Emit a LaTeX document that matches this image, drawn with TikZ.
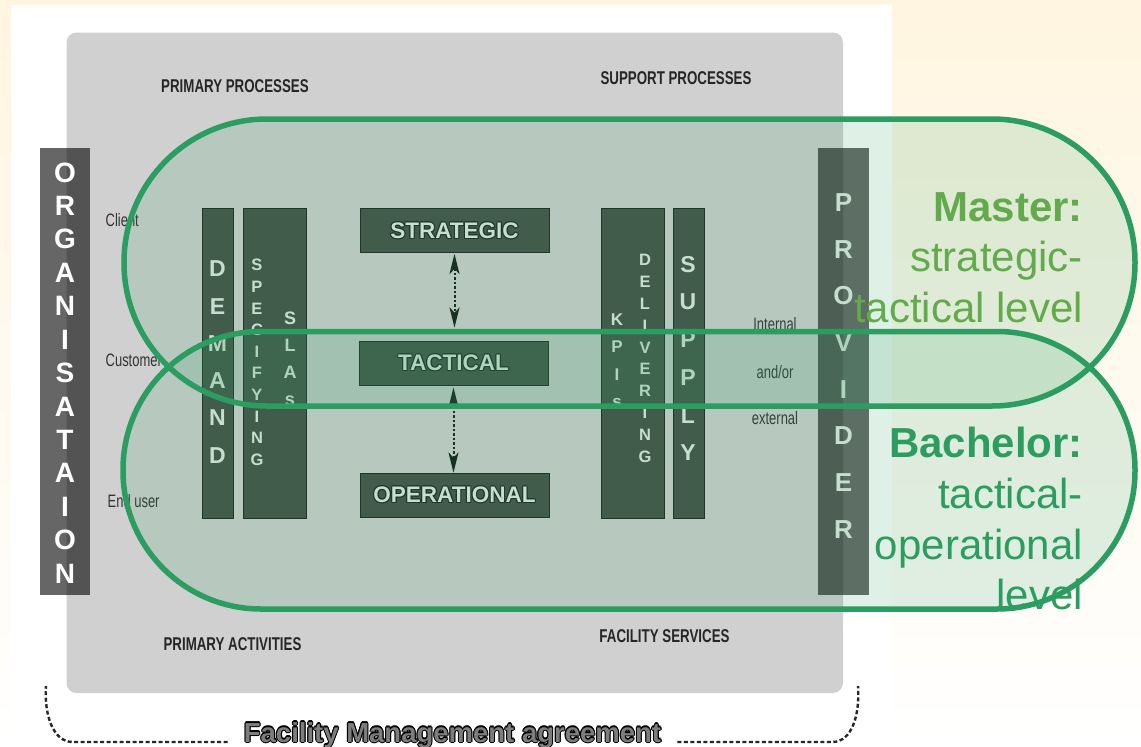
\documentclass[tikz,border=0pt]{standalone}
\usepackage{fontspec}
\setmainfont{Liberation Sans}
\newfontfamily\condfont[FakeStretch=0.72]{Liberation Sans}
\usepackage{graphicx}
\usetikzlibrary{arrows.meta}

\definecolor{ovalgreen}{RGB}{44,157,96}
\definecolor{mastergreen}{RGB}{98,170,76}
\definecolor{colfill}{RGB}{71,81,72}
\definecolor{colline}{RGB}{28,38,32}
\definecolor{greyback}{RGB}{208,208,208}
\definecolor{cream}{RGB}{255,245,224}
\definecolor{letterc}{RGB}{226,234,226}
\definecolor{arrowc}{RGB}{20,32,24}
\definecolor{fmagrey}{RGB}{125,125,125}

% light text with a thin dark rim
\newcommand\outlined[3]{%
  \makebox[0pt][l]{\color{#2}\hspace*{-1.1pt}#3}%
  \makebox[0pt][l]{\color{#2}\hspace*{1.1pt}#3}%
  \makebox[0pt][l]{\color{#2}\raisebox{1.1pt}{#3}}%
  \makebox[0pt][l]{\color{#2}\raisebox{-1.1pt}{#3}}%
  \makebox[0pt][l]{\color{#2}\hspace*{-0.8pt}\raisebox{0.8pt}{#3}}%
  \makebox[0pt][l]{\color{#2}\hspace*{0.8pt}\raisebox{0.8pt}{#3}}%
  \makebox[0pt][l]{\color{#2}\hspace*{-0.8pt}\raisebox{-0.8pt}{#3}}%
  \makebox[0pt][l]{\color{#2}\hspace*{0.8pt}\raisebox{-0.8pt}{#3}}%
  {\color{#1}#3}}

\begin{document}
\begin{tikzpicture}[x=1pt, y=-1pt,
    bandletter/.style={inner sep=0pt, text height={0.72*#1pt}, text depth=0pt,
      font=\bfseries\fontsize{#1}{#1}\selectfont},
    colbox/.style={draw=colline, line width=0.9pt, fill=colfill, inner sep=0pt},
    lvlbox/.style={colbox, minimum width=189pt, minimum height=44pt,
      font=\bfseries\fontsize{22.5}{26}\selectfont},
    sidebar/.style={fill=black, fill opacity=0.6, minimum width=50pt,
      minimum height=447pt, inner sep=0pt},
    hdr/.style={inner sep=0pt, font=\condfont\bfseries\fontsize{18.5}{20}\selectfont, text=black!85},
    lbl/.style={inner sep=0pt, font=\condfont\fontsize{18}{20}\selectfont, text=black!80},
    oval/.style={draw=ovalgreen, line width=5.5pt, fill=ovalgreen, fill opacity=0.15},
    lvlarrow/.style={arrows={Stealth[length=20pt, width=10pt, inset=5pt]-Stealth[length=20pt, width=10pt, inset=5pt]},
      draw=arrowc, line width=2pt, dash pattern=on 2.5pt off 2pt},
    lvltext/.style={inner sep=0pt, align=right, anchor=north east,
      font=\fontsize{42}{50.7}\selectfont},
    bracket/.style={draw=black!85, line width=2.4pt, dash pattern=on 4pt off 2.5pt}
  ]
  \useasboundingbox (0,0) rectangle (1141,747);

  % background
  \fill[top color=cream, bottom color=white] (0,0) rectangle (1141,747);
  \fill[white] (11,5) rectangle (892,747);
  \fill[greyback, rounded corners=10pt] (66.5,32.5) rectangle (843,693);

  % side bars
  \node[sidebar] (orgbar) at (65,371.5) {};
  \node[sidebar, minimum width=51pt] (provbar) at (843.5,371.5) {};
  \foreach \c [count=\i from 0] in {O,R,G,A,N,I,S,A,T,A,I,O,N}
    \node[bandletter=28, text=white] (org\i) at (65,{172+33.42*\i}) {\c};
  \foreach \c [count=\i from 0] in {P,R,O,V,I,D,E,R}
    \node[bandletter=26, text=letterc] (prov\i) at (843.5,{202+46.7*\i}) {\c};

  % headings and labels
  \node[hdr] (primproc) at (235,86.5) {PRIMARY PROCESSES};
  \node[hdr] (suppproc) at (676,78.5) {SUPPORT PROCESSES};
  \node[hdr] (primact) at (232.5,644) {PRIMARY ACTIVITIES};
  \node[hdr] (facserv) at (664.5,636) {FACILITY SERVICES};
  \node[lbl, anchor=west] (client) at (105.5,220) {Client};
  \node[lbl, anchor=west] (customer) at (105.5,360) {Customer};
  \node[lbl, anchor=west] (enduser) at (107.5,501) {End user};
  \node[lbl] (internal) at (775,324) {Internal};
  \node[lbl] (andor) at (775,372) {and/or};
  \node[lbl] (external) at (775,418) {external};

  % columns
  \node[colbox, minimum width=31pt, minimum height=310pt] (demand) at (217.5,363) {};
  \node[colbox, minimum width=63pt, minimum height=310pt] (specify) at (274.5,363) {};
  \node[colbox, minimum width=63pt, minimum height=310pt] (deliver) at (632.5,363) {};
  \node[colbox, minimum width=31pt, minimum height=310pt] (supply) at (688.5,363) {};
  \foreach \c [count=\i from 0] in {D,E,M,A,N,D}
    \node[bandletter=23, text=letterc] (dem\i) at (217.5,{268.5+37.3*\i}) {\c};
  \foreach \c [count=\i from 0] in {S,P,E,C,I,F,Y,I,N,G}
    \node[bandletter=16.5, text=letterc] (spec\i) at (257,{265+21.6*\i}) {\c};
  \foreach \c [count=\i from 0] in {S,L,A,s}
    \node[bandletter=18, text=letterc] (sla\i) at (290,{318+27*\i}) {\c};
  \foreach \c [count=\i from 0] in {K,P,I,s}
    \node[bandletter=17, text=letterc] (kpi\i) at (617,{319+27.5*\i}) {\c};
  \foreach \c [count=\i from 0] in {D,E,L,I,V,E,R,I,N,G}
    \node[bandletter=16.5, text=letterc] (del\i) at (645,{260+21.8*\i}) {\c};
  \foreach \c [count=\i from 0] in {S,U,P,P,L,Y}
    \node[bandletter=23, text=letterc] (sup\i) at (688,{264+37.7*\i}) {\c};

  % levels
  \node[lvlbox] (strat) at (454.5,230.5) {\outlined{letterc}{colline}{STRATEGIC}};
  \node[lvlbox] (tact) at (453.5,363) {\outlined{letterc}{colline}{TACTICAL}};
  \node[lvlbox] (oper) at (454.5,495) {\outlined{letterc}{colline}{OPERATIONAL}};
  \draw[lvlarrow, shorten <=1pt, shorten >=13pt] (strat.south) -- (strat.south |- tact.north);
  \draw[lvlarrow, shorten <=2pt] (tact.south) -- (tact.south |- oper.north);

  % study levels
  \draw[oval, rounded corners=143pt] (124,119) rectangle (1135,406);
  \draw[oval, rounded corners=138pt] (123,331.5) rectangle (1135,609);
  \node[lvltext, text=mastergreen] (master) at (1083,192)
    {\textbf{Master:}\\strategic-\\tactical level};
  \node[lvltext, text=ovalgreen] (bachelor) at (1083,427)
    {\textbf{Bachelor:}\\tactical-\\operational\\level};

  % agreement
  \node[inner sep=0pt, anchor=base, font=\bfseries\fontsize{27.5}{30}\selectfont] (fma)
    at (452.5,742) {\outlined{fmagrey}{black}{Facility Management agreement}};
  \coordinate (brL) at (46,686);
  \coordinate (brR) at (858,686);
  \draw[bracket] ([xshift=-16pt]fma.base west) -- ++(-155,0)
    .. controls +(-20,0) and +(-2,28) .. (brL);
  \draw[bracket] ([xshift=16pt]fma.base east) -- ++(155,0)
    .. controls +(20,0) and +(2,28) .. (brR);
\end{tikzpicture}
\end{document}
